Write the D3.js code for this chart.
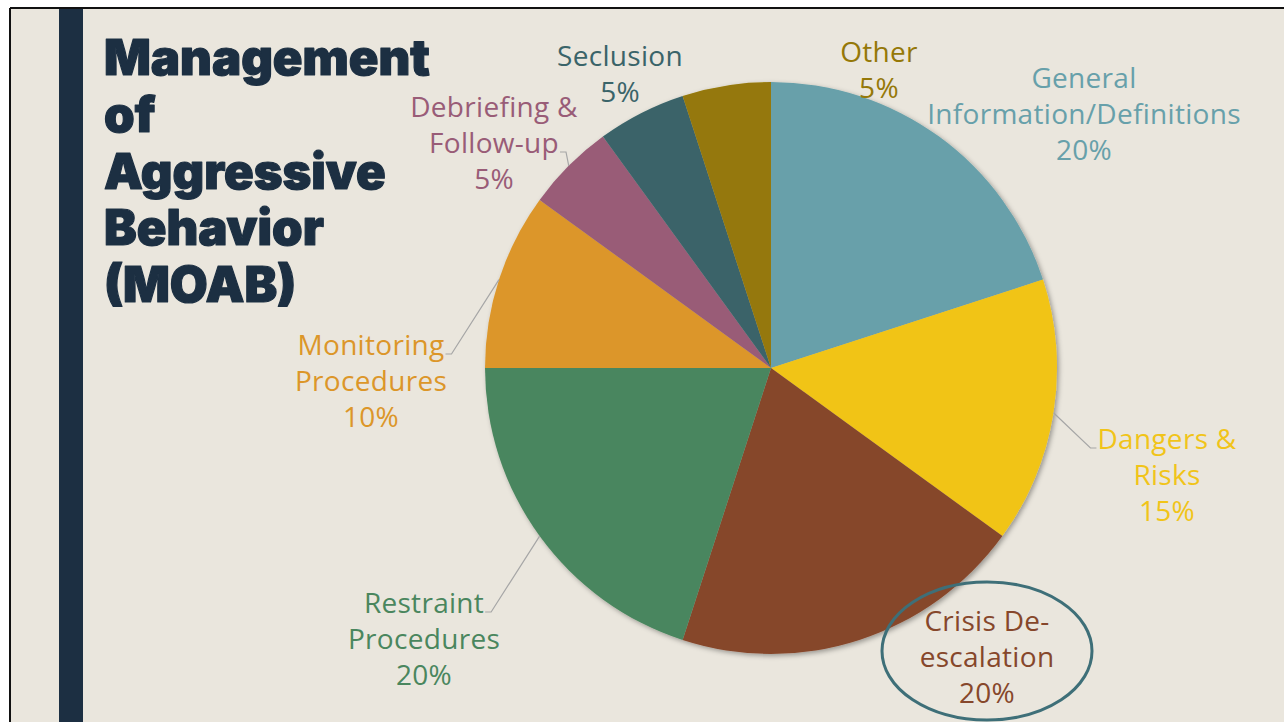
<!DOCTYPE html>
<html>
<head>
<meta charset="utf-8">
<script src="https://cdn.jsdelivr.net/npm/d3@7"></script>
<style>
  html, body { margin: 0; padding: 0; background: #ffffff; }
  svg { display: block; }
</style>
</head>
<body>
<svg id="chart" width="1284" height="722"></svg>
<script>
// ---- data ----
const categories = ["General Information/Definitions", "Dangers & Risks", "Crisis De-escalation",
  "Restraint Procedures", "Monitoring Procedures", "Debriefing & Follow-up", "Seclusion", "Other"];
const values = [20, 15, 20, 20, 10, 5, 5, 5];
const labelLines = [
  ["General", "Information/Definitions"],
  ["Dangers &", "Risks"],
  ["Crisis De-", "escalation"],
  ["Restraint", "Procedures"],
  ["Monitoring", "Procedures"],
  ["Debriefing &", "Follow-up"],
  ["Seclusion"],
  ["Other"]
];
const titleLines = ["Management", "of", "Aggressive", "Behavior", "(MOAB)"];
const palette = ["#67A0AA", "#F1C419", "#86472B", "#4A865E", "#DC9629", "#995C77", "#3A6469", "#957808"];
// label centre (x, first-baseline y) relative to the pie centre; leader line flag
const labelLayout = [
  { dx: 313, dy: -280, leader: false },
  { dx: 396, dy: 81, leader: true, side: "left" },
  { dx: 216, dy: 263, leader: false },
  { dx: -347, dy: 245, leader: true, side: "right" },
  { dx: -400, dy: -13, leader: true, side: "right" },
  { dx: -277, dy: -251, leader: true, side: "right", lineIdx: 1 },
  { dx: -151, dy: -302, leader: false },
  { dx: 108, dy: -306, leader: false }
];

const svg = d3.select("#chart");
const W = 1284, H = 722;

// slide background & frame
svg.append("rect").attr("x", 10).attr("y", 8).attr("width", W).attr("height", H).attr("fill", "#EAE6DD");
svg.append("line").attr("x1", 10).attr("y1", 8).attr("x2", W).attr("y2", 8).attr("stroke", "#111").attr("stroke-width", 2);
svg.append("line").attr("x1", 10).attr("y1", 8).attr("x2", 10).attr("y2", H).attr("stroke", "#111").attr("stroke-width", 2);
svg.append("rect").attr("x", 59).attr("y", 9).attr("width", 24).attr("height", H).attr("fill", "#1C2F42");

// title
const title = svg.append("text")
  .attr("x", 104).attr("y", 75)
  .attr("fill", "#1C2F42")
  .attr("stroke", "#1C2F42").attr("stroke-width", 1.2).attr("stroke-linejoin", "round")
  .style("font-family", "Inter, Lato, 'Liberation Sans', sans-serif")
  .style("font-weight", 900)
  .style("font-size", "49px")
  .style("letter-spacing", "0px");
titleLines.forEach((t, i) => {
  title.append("tspan").attr("x", 104).attr("y", 75 + i * 56.8).text(t);
});

// pie
const cx = 771, cy = 368, R = 286;
const defs = svg.append("defs");
const f = defs.append("filter").attr("id", "shadow").attr("x", "-10%").attr("y", "-10%").attr("width", "120%").attr("height", "120%");
f.append("feDropShadow").attr("dx", 2).attr("dy", 2).attr("stdDeviation", 2.5).attr("flood-color", "#000").attr("flood-opacity", 0.35);

const color = d3.scaleOrdinal().domain(categories).range(palette);
const pie = d3.pie().sort(null).value(d => d.value);
const data = categories.map((c, i) => ({ name: c, value: values[i], idx: i }));
const arcs = pie(data);
const arcGen = d3.arc().innerRadius(0).outerRadius(R);

const g = svg.append("g").attr("transform", `translate(${cx},${cy})`);
g.append("g").attr("filter", "url(#shadow)")
  .selectAll("path").data(arcs).join("path")
  .attr("d", arcGen)
  .attr("fill", d => color(d.data.name));

const total = d3.sum(values);
const fmt = d3.format(".0%");
const lineH = 36;

// labels
arcs.forEach((a, i) => {
  const L = labelLayout[i];
  const lines = labelLines[i].concat([fmt(a.data.value / total)]);
  const t = g.append("text")
    .attr("text-anchor", "middle")
    .attr("fill", color(a.data.name))
    .style("font-family", "'Open Sans', 'Liberation Sans', sans-serif")
    .style("font-size", "28px")
    .style("letter-spacing", "0.3px");
  lines.forEach((ln, k) => {
    t.append("tspan").attr("x", L.dx).attr("y", L.dy + k * lineH).text(ln);
  });
  if (L.leader) {
    const mid = (a.startAngle + a.endAngle) / 2;
    const ex = R * Math.sin(mid), ey = -R * Math.cos(mid);
    const k = L.lineIdx || 0;
    const ly = L.dy + k * lineH - 1;
    const w = t.selectAll("tspan").nodes()[k].getComputedTextLength();
    let hx0, hx1;
    if (L.side === "right") { hx0 = L.dx + w / 2 + 1; hx1 = hx0 + 6; }
    else { hx0 = L.dx - w / 2 - 1; hx1 = hx0 - 6; }
    g.append("polyline")
      .attr("points", `${hx0},${ly} ${hx1},${ly} ${ex},${ey}`)
      .attr("fill", "none").attr("stroke", "#A6A6A6").attr("stroke-width", 1.2);
  }
});

// highlight ellipse around the Crisis De-escalation label
const crisisIdx = categories.indexOf("Crisis De-escalation");
const cl = labelLayout[crisisIdx];
g.append("ellipse")
  .attr("cx", cl.dx).attr("cy", cl.dy + 20)
  .attr("rx", 105).attr("ry", 69)
  .attr("fill", "none").attr("stroke", "#3E6F78").attr("stroke-width", 3);
</script>
</body>
</html>
